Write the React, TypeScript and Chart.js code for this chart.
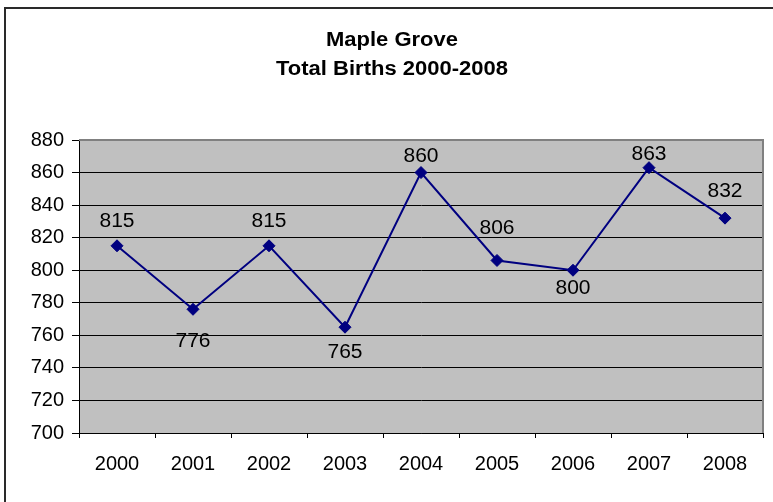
import React, { useEffect, useRef } from "react";
import { Chart, registerables } from "chart.js";

Chart.register(...registerables);

const years = ["2000", "2001", "2002", "2003", "2004", "2005", "2006", "2007", "2008"];
const births = [815, 776, 815, 765, 860, 806, 800, 863, 832];
const titleLines = ["Maple Grove", "Total Births 2000-2008"];
const yMin = 700;
const yMax = 880;
const yStep = 20;
// vertical offset of each value label from its point (px)
const labelDy = [-24, 32, -24, 25, -16, -32, 18, -13, -27];

const FONT = "'Liberation Sans', Arial, sans-serif";

const decorPlugin = {
  id: "decor",
  beforeDraw(chart: any) {
    const { ctx, chartArea: a } = chart;
    ctx.save();
    ctx.fillStyle = "#ffffff";
    ctx.fillRect(0, 0, chart.width, chart.height);
    ctx.fillStyle = "#C0C0C0";
    ctx.fillRect(a.left, a.top, a.right - a.left, a.bottom - a.top);
    // outer frame (top & left)
    ctx.fillStyle = "#2a2a2a";
    ctx.fillRect(4, 7, 2, chart.height - 7);
    ctx.fillRect(4, 7, chart.width - 4, 2);
    // title
    ctx.fillStyle = "#000";
    ctx.font = `bold 20px ${FONT}`;
    ctx.textAlign = "center";
    ctx.textBaseline = "middle";
    const ys = [40, 69];
    titleLines.forEach((t, i) => {
      ctx.save();
      ctx.translate(392, ys[i]);
      ctx.scale(1.1, 1);
      ctx.fillText(t, 0, 0);
      ctx.restore();
    });
    ctx.restore();
  },
  afterDraw(chart: any) {
    const { ctx, chartArea: a } = chart;
    ctx.save();
    ctx.strokeStyle = "#808080";
    ctx.lineWidth = 2;
    ctx.beginPath();
    ctx.moveTo(a.left, a.top);
    ctx.lineTo(a.right, a.top);
    ctx.lineTo(a.right, a.bottom);
    ctx.stroke();
    ctx.restore();
  },
  afterDatasetsDraw(chart: any) {
    const { ctx } = chart;
    const meta = chart.getDatasetMeta(0);
    ctx.save();
    ctx.fillStyle = "#000";
    ctx.font = `20px ${FONT}`;
    ctx.textAlign = "center";
    ctx.textBaseline = "middle";
    meta.data.forEach((pt: any, i: number) => {
      ctx.save();
      ctx.translate(pt.x, pt.y + labelDy[i]);
      ctx.scale(1.05, 1);
      ctx.fillText(String(births[i]), 0, 0);
      ctx.restore();
    });
    ctx.restore();
  },
};

export default function App() {
  const ref = useRef<HTMLCanvasElement>(null);
  useEffect(() => {
    if (!ref.current) return;
    const chart = new Chart(ref.current, {
      type: "line",
      data: {
        labels: years,
        datasets: [
          {
            data: births,
            borderColor: "#000080",
            backgroundColor: "#000080",
            borderWidth: 2,
            pointStyle: "rectRot",
            pointRadius: 6,
            pointBorderWidth: 1,
            pointBackgroundColor: "#000080",
            pointBorderColor: "#000080",
            tension: 0,
          },
        ],
      },
      options: {
        responsive: false,
        animation: false,
        devicePixelRatio: 1,
        layout: { padding: { top: 140, right: 10, bottom: 0, left: 0 } },
        plugins: {
          legend: { display: false },
          title: { display: false },
          tooltip: { enabled: false },
        },
        scales: {
          x: {
            offset: true,
            grid: {
              offset: true,
              drawOnChartArea: false,
              color: "#000",
              tickLength: 5,
            },
            border: { color: "#000", width: 1 },
            ticks: {
              color: "#000",
              font: { family: FONT, size: 20 },
              padding: 14,
              maxRotation: 0,
            },
            afterFit(scale: any) {
              scale.height = 69;
            },
          },
          y: {
            min: yMin,
            max: yMax,
            grid: {
              color: (c: any) => (c.tick && c.tick.value === yMax ? "rgba(0,0,0,0)" : "#000"),
              tickColor: "#000",
              tickLength: 7,
            },
            border: { color: "#000", width: 1 },
            ticks: {
              stepSize: yStep,
              color: "#000",
              font: { family: FONT, size: 20 },
              padding: 8,
            },
            afterFit(scale: any) {
              scale.width = 79;
            },
          },
        },
      },
      plugins: [decorPlugin],
    });
    return () => chart.destroy();
  }, []);
  return (
    <div style={{ position: "fixed", left: 0, top: 0, width: 773, height: 502, background: "#fff" }}>
      <canvas ref={ref} width={773} height={502} style={{ width: 773, height: 502, display: "block" }} />
    </div>
  );
}
